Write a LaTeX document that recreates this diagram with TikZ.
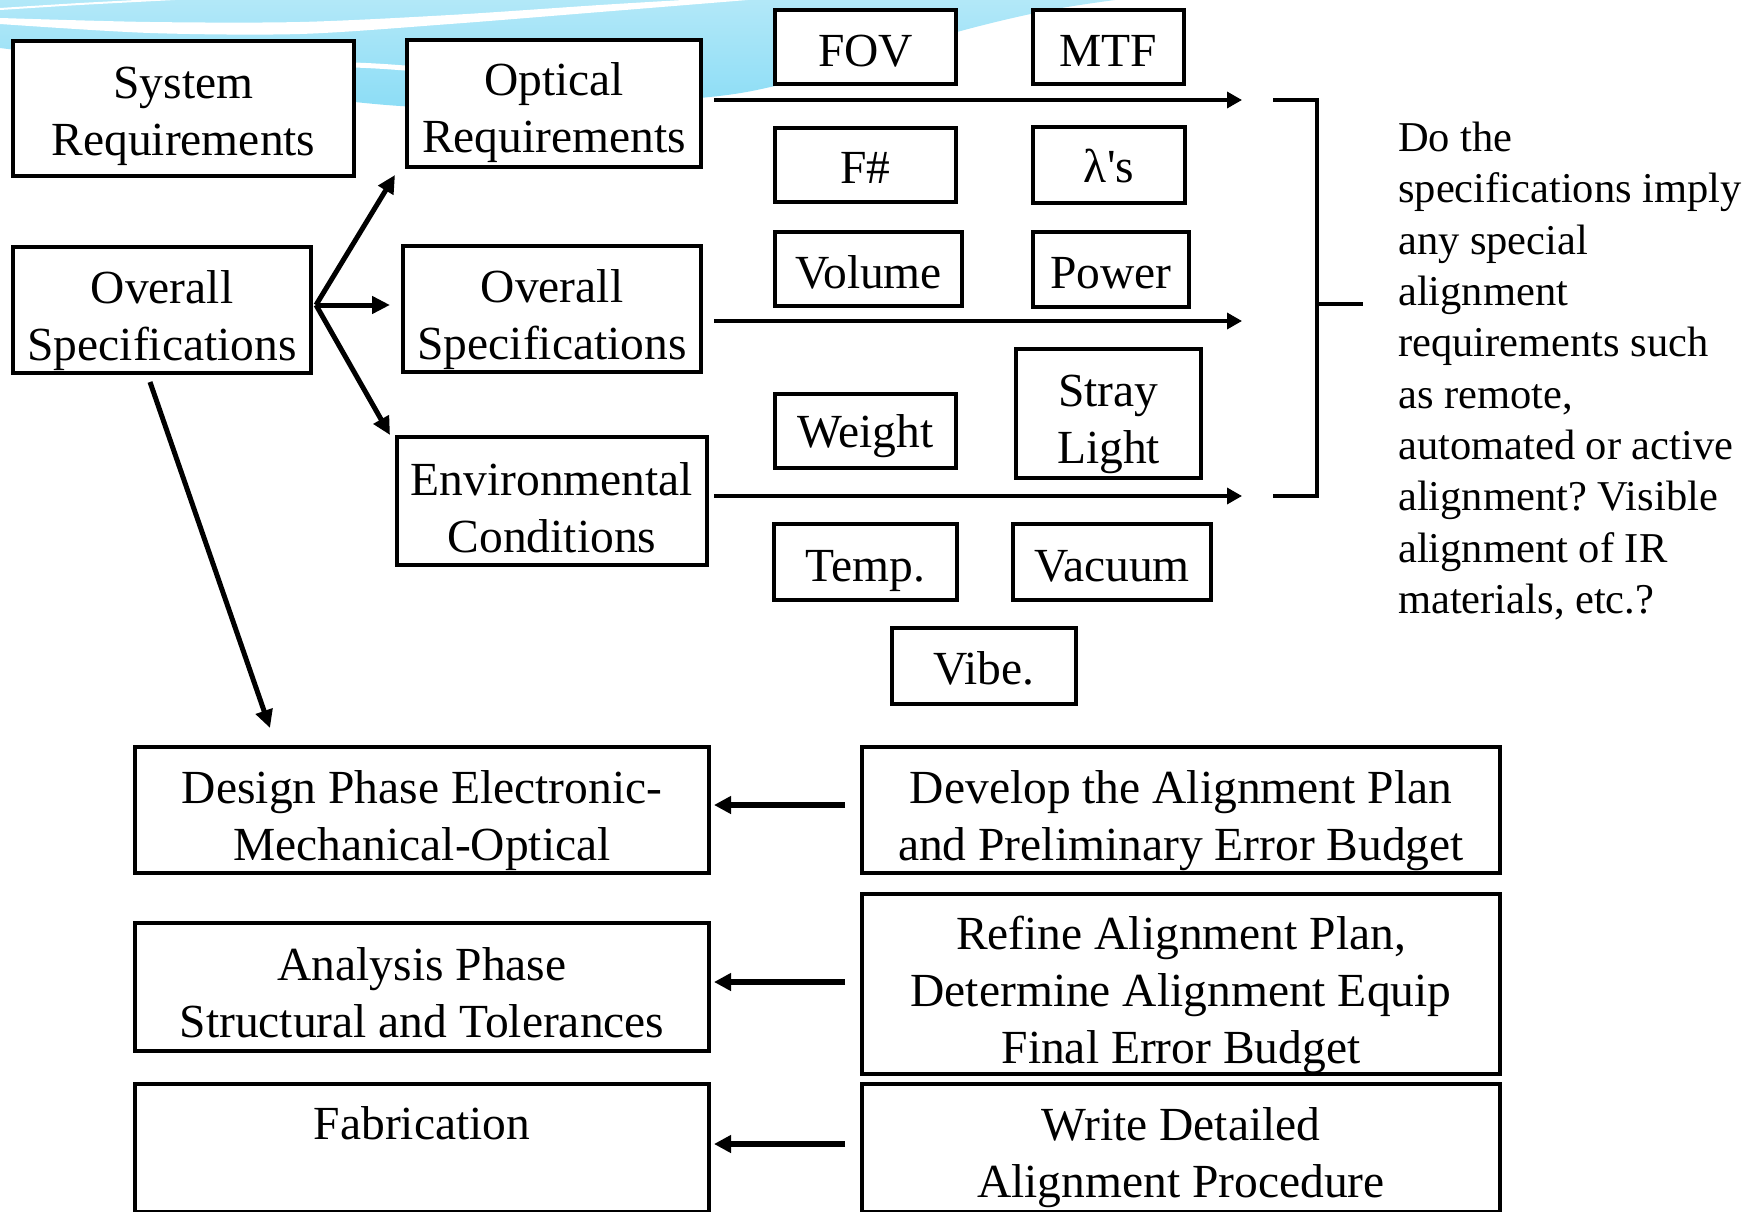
\documentclass[tikz,border=0pt]{standalone}
\usepackage{fontspec}
\setmainfont{Liberation Serif}
\usetikzlibrary{arrows.meta}
\definecolor{bgA}{RGB}{178,232,248}
\definecolor{bgB}{RGB}{140,221,246}
\newcommand\topS[1]{\rule{0pt}{#1pt}}
\newcommand\botS{\rule[-10.5pt]{0pt}{10.5pt}}
\frenchspacing
\begin{document}
\begin{tikzpicture}[x=1pt, y=-1pt,
  box/.style={draw, line width=4pt, fill=white, align=center, inner sep=0pt,
    font=\fontsize{47.5}{57}\selectfont},
  arr/.style={line width=3.4pt, -{Triangle[length=15pt,width=16pt]}},
  farr/.style={line width=5pt, -{Triangle[length=18pt,width=17pt]}},
  barr/.style={line width=6pt, -{Triangle[length=17pt,width=17pt]}},
  brk/.style={line width=4pt},
  note/.style={anchor=north west, align=left, inner sep=0pt,
    font=\fontsize{42.5}{51.3}\selectfont}
]
\useasboundingbox (0,0) rectangle (1758,1212);
\clip (0,0) rectangle (1758,1212);

% background swoosh
\shade[top color=bgA, bottom color=bgB] (0,0) -- (1115,0) -- plot[smooth, tension=0.6] coordinates {(1115,0) (1045,11) (957,32) (860,62) (775,86) (700,98) (550,108) (400,106) (250,88) (100,62) (0,48)} -- cycle;
\fill[white] plot[smooth] coordinates {(0,18) (150,22) (300,22) (450,15) (600,5) (700,-1)} -- plot[smooth] coordinates {(760,-1) (600,12) (450,24) (300,34) (150,33) (0,24)} -- cycle;
\draw[white, line width=2pt] plot[smooth] coordinates {(0,9) (80,4) (175,-1)};
\draw[white, line width=5pt] (330,64) .. controls (380,66) .. (430,70);

% upper boxes
\node[box, minimum width=341, minimum height=135] (sysreq) at (183.5,108.5) {\topS{47}System\\Requirements\botS};
\node[box, minimum width=294, minimum height=127] (optreq) at (554,103.5) {\topS{52.5}Optical\\Requirements\botS};
\node[box, minimum width=298, minimum height=126] (ovl) at (162,310) {\topS{54.5}Overall\\Specifications\botS};
\node[box, minimum width=298, minimum height=126] (ovm) at (552,309) {\topS{54.5}Overall\\Specifications\botS};
\node[box, minimum width=310, minimum height=128] (env) at (552,501) {\topS{56}Environmental\\Conditions\botS};

\node[box, minimum width=181, minimum height=74] (fov) at (865.5,47) {\topS{48.7}\botS FOV};
\node[box, minimum width=151, minimum height=74] (mtf) at (1108.5,47) {\topS{48.7}\botS MTF};
\node[box, minimum width=181, minimum height=74] (fnum) at (865.5,165) {\topS{46.5}\botS F\#};
\node[box, minimum width=152, minimum height=76] (lam) at (1109,165) {\topS{45.5}\botS λ\textquotesingle s};
\node[box, minimum width=187, minimum height=74] (vol) at (868.5,269) {\topS{49.5}\botS Volume};
\node[box, minimum width=156, minimum height=75] (pow) at (1111,269.5) {\topS{48.7}\botS Power};
\node[box, minimum width=181, minimum height=74] (wt) at (865.5,431) {\topS{44}\botS Weight};
\node[box, minimum width=185, minimum height=129] (stray) at (1108.5,413.5) {\topS{52.5}Stray\\Light\botS};
\node[box, minimum width=183, minimum height=76] (temp) at (865.5,562) {\topS{49.5}\botS Temp.};
\node[box, minimum width=198, minimum height=76] (vac) at (1112,562) {\topS{48.7}\botS Vacuum};
\node[box, minimum width=184, minimum height=76] (vibe) at (984,666) {\topS{47.5}\botS Vibe.};

% lower boxes
\node[box, minimum width=574, minimum height=126] (design) at (422,810) {\topS{54.5}Design Phase Electronic-\\Mechanical-Optical\botS};
\node[box, minimum width=638, minimum height=126] (develop) at (1181,810) {\topS{54.5}Develop the Alignment Plan\\and Preliminary Error Budget\botS};
\node[box, minimum width=574, minimum height=128] (analysis) at (422,987) {\topS{54}Analysis Phase\\Structural and Tolerances\botS};
\node[box, minimum width=638, minimum height=180] (refine) at (1181,984) {\topS{54.5}Refine Alignment Plan,\\Determine Alignment Equip\\Final Error Budget\botS};
\node[box, minimum width=574, minimum height=128] (fab) at (422,1148) {\raisebox{8.5pt}[0pt][0pt]{Fabrication}};
\node[box, minimum width=638, minimum height=128] (write) at (1181,1148) {\topS{52}Write Detailed\\Alignment Procedure\botS};

% note text
\node[note] (q) at (1398,122) {Do the\\specifications imply\\any special\\alignment\\requirements such\\as remote,\\automated or active\\alignment? Visible\\alignment of IR\\materials, etc.?};

% fork arrows
\coordinate (fork) at ([shift={(3,-5)}]ovl.east);
\draw[farr] (fork) -- ([shift={(-10,6)}]optreq.south west);
\draw[farr] (fork) -- ([shift={(-11,-4)}]ovm.west);
\draw[farr] (fork) -- ([shift={(-5,0)}]env.north west);
\draw[farr] ([shift={(-12,7)}]ovl.south) -- ([shift={(137,-17)}]design.north west);

% horizontal arrows to bracket
\coordinate (e1) at (1242,100);
\coordinate (e2) at (1242,321);
\coordinate (e3) at (1242,496);
\draw[arr, shorten <=11pt] (optreq.east |- e1) -- (e1);
\draw[arr, shorten <=11pt] (ovm.east |- e2) -- (e2);
\draw[arr, shorten <=5pt] (env.east |- e3) -- (e3);

% bracket
\draw[brk] (1273,100) -- (1317,100) -- (1317,496) -- (1273,496);
\draw[brk] (1317,304) -- (1363,304);

% lower arrows
\draw[barr] ([shift={(-15,-5)}]develop.west) -- ([shift={(3,-5)}]design.east);
\draw[barr] ([shift={(-15,-2)}]refine.west) -- ([shift={(3,-5)}]analysis.east);
\draw[barr] ([shift={(-15,-4)}]write.west) -- ([shift={(3,-4)}]fab.east);
\end{tikzpicture}
\end{document}
